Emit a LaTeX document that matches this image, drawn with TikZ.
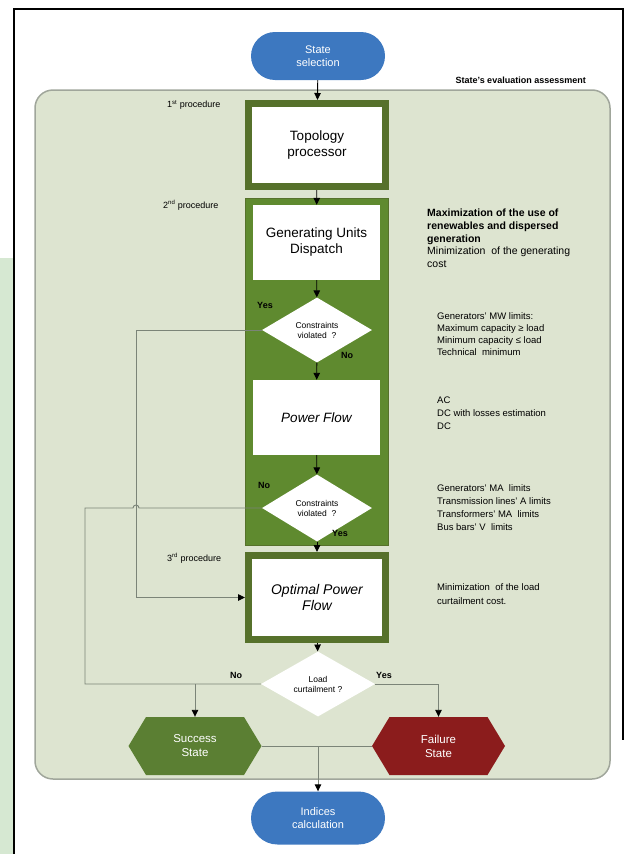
\documentclass[tikz,border=0pt]{standalone}
\usepackage{fontspec}
\setmainfont{Liberation Sans}
\usetikzlibrary{shapes.geometric,shapes.misc,arrows.meta}
\definecolor{selblue}{HTML}{3D78C0}
\definecolor{panelfill}{HTML}{DDE4D0}
\definecolor{panelline}{HTML}{A0A69B}
\definecolor{colgreen}{HTML}{5F8A2F}
\definecolor{frameolive}{HTML}{56712B}
\definecolor{succgreen}{HTML}{5B7F33}
\definecolor{failred}{HTML}{8B1C1C}
\definecolor{loopgray}{HTML}{7B8478}
\definecolor{leftgreen}{HTML}{D6E8D2}
\begin{document}
\begin{tikzpicture}[x=1pt,y=-1pt,
  stadium/.style={rounded rectangle, fill=selblue, text=white, minimum width=134pt, minimum height=48pt, inner sep=0pt, align=center, font=\fontsize{11}{13}\selectfont},
  framebox/.style={rectangle, draw=frameolive, line width=7pt, fill=white, minimum width=137pt, align=center, font=\fontsize{13.5}{16}\selectfont},
  whitebox/.style={rectangle, fill=white, minimum width=127pt, minimum height=75pt, inner sep=0pt, align=center, font=\fontsize{13.5}{16}\selectfont},
  decision/.style={diamond, fill=white, aspect=1.7, minimum width=110pt, minimum height=65pt, inner sep=0pt, align=center, font=\fontsize{8.5}{10}\selectfont},
  hexnode/.style={rectangle, minimum width=133pt, minimum height=58pt, inner sep=0pt, text=white, align=center, font=\fontsize{11.5}{14}\selectfont},
  flow/.style={draw=black, line width=0.9pt, -{Triangle[length=7pt,width=6.5pt]}},
  loopline/.style={draw=loopgray, line width=0.9pt},
  looparrow/.style={draw=loopgray, line width=0.9pt, -{Triangle[length=7pt,width=6.5pt,color=black]}},
  lbl/.style={font=\bfseries\fontsize{9}{10}\selectfont, inner sep=0pt},
  proc/.style={anchor=west, inner sep=0pt, font=\fontsize{9}{11}\selectfont},
  note/.style={anchor=north west, align=left, inner sep=0pt, font=\fontsize{9.5}{12.8}\selectfont}
]
\useasboundingbox (0,0) rectangle (625,854);
% outer page look
\fill[leftgreen] (0,258) rectangle (13,854);
\draw[line width=1.6pt] (14,854) -- (14,9) -- (623,9) -- (623,740);
% panel
\filldraw[fill=panelfill, draw=panelline, line width=1.5pt, rounded corners=18pt] (35,90) rectangle (610,779);
\node[anchor=east, inner sep=0pt, font=\bfseries\fontsize{9}{11}\selectfont] (title) at (586,80) {State's evaluation assessment};
% green column of the 2nd procedure
\filldraw[fill=colgreen, draw=frameolive, line width=0.8pt] (245,198) rectangle (388,545);
% hexagon fills
\fill[succgreen] (128.5,746) -- (146,717) -- (244,717) -- (261.5,746) -- (244,775) -- (146,775) -- cycle;
\fill[failred] (372,746) -- (389.5,717) -- (487.5,717) -- (505,746) -- (487.5,775) -- (389.5,775) -- cycle;

% nodes
\node[stadium] (sel) at (318,56) {State\\selection};
\node[framebox, minimum height=83pt] (topo) at (317,145) {Topology\\processor};
\node[whitebox] (gen) at (316.5,242.5) {Generating Units\\Dispatch};
\node[decision] (d1) at (317,330) {Constraints\\violated\ \ ?};
\node[whitebox, font=\itshape\fontsize{13.5}{16}\selectfont] (pf) at (316.5,417.5) {Power Flow};
\node[decision, minimum height=67pt] (d2) at (317,508) {Constraints\\violated\ \ ?};
\node[framebox, minimum height=84pt, font=\itshape\fontsize{14}{16}\selectfont] (opf) at (317,597.5) {Optimal Power\\Flow};
\node[decision, minimum width=114pt] (d3) at (318,684) {Load\\curtailment ?};
\node[hexnode] (succ) at (195,746) {Success\\State};
\node[hexnode] (fail) at (438.5,746) {Failure\\State};
\node[stadium, minimum height=53pt] (ind) at (318,818) {Indices\\calculation};

% procedure labels
\node[proc] (p1) at (167,105) {1\textsuperscript{st} procedure};
\node[proc] (p2) at (163,205) {2\textsuperscript{nd} procedure};
\node[proc] (p3) at (167,558) {3\textsuperscript{rd} procedure};

% notes
\node[note, font=\fontsize{10.5}{12.6}\selectfont] (n1) at (427,209) {\textbf{Maximization of the use of}\\\textbf{renewables and dispersed}\\\textbf{generation}\\Minimization\ \ of the generating\\cost};
\node[note, font=\fontsize{9.5}{12}\selectfont] (n2) at (437,312) {Generators' MW limits:\\Maximum capacity ≥ load\\Minimum capacity ≤ load\\Technical\ \ minimum};
\node[note, font=\fontsize{9.5}{13}\selectfont] (n3) at (437,397) {AC\\DC with losses estimation\\DC};
\node[note, font=\fontsize{9.5}{13}\selectfont] (n4) at (437,484) {Generators' MA\ \ limits\\Transmission lines' A limits\\Transformers' MA\ \ limits\\Bus bars' V\ \ limits};
\node[note, font=\fontsize{9.5}{14}\selectfont] (n5) at (437,583) {Minimization\ \ of the load\\curtailment cost.};

% main flow
\draw[flow] (sel) -- (topo);
\draw[flow] (topo) -- (gen);
\draw[flow] (gen) -- (d1);
\draw[flow] (d1) -- (pf);
\draw[flow] (pf) -- (d2);
\draw[flow] (d2) -- (opf);
\draw[flow] (opf) -- (d3);

% decision labels
\node[lbl] (y1) at (265,305) {Yes};
\node[lbl] (no1) at (347,355) {No};
\node[lbl] (no2) at (264,485) {No};
\node[lbl] (y2) at (340,533) {Yes};
\node[lbl] (no3) at (236,675) {No};
\node[lbl] (y3) at (384,675) {Yes};

% loops
\coordinate (ya) at (136,330);
\draw[looparrow] (d1.west) -- (ya) |- (opf.west);
\coordinate (hopR) at (139,508);
\coordinate (lx) at (85,508);
\draw[loopline] (d2.west) -- (hopR) arc (0:-180:3) -- (lx) |- (d3.west);
\coordinate (j1) at (195,684);
\draw[looparrow] (j1) -- (succ.north);
\draw[looparrow] (d3.east) -| (fail.north);
\coordinate (j2) at (318,746);
\draw[loopline] (succ.east) -- (fail.west);
\draw[looparrow] (j2) -- (ind.north);
\end{tikzpicture}
\end{document}
